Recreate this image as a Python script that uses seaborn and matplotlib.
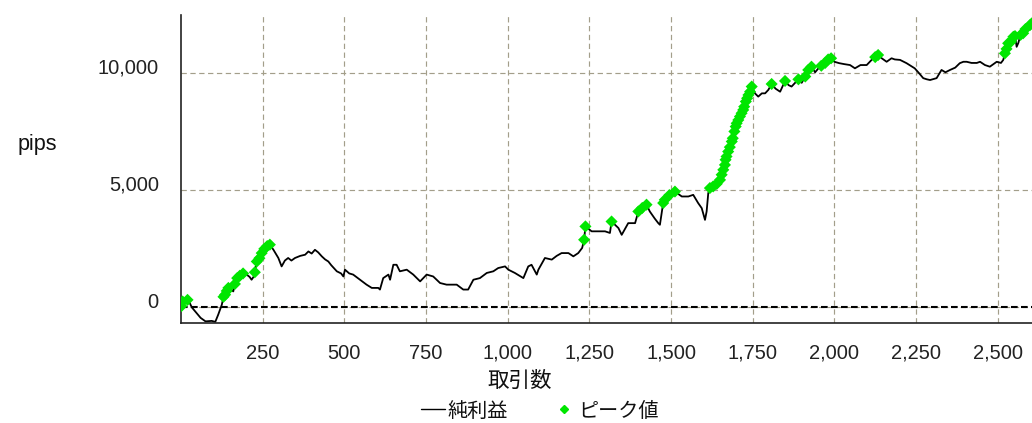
import numpy as np
import pandas as pd
import matplotlib
matplotlib.use("Agg")
import matplotlib.pyplot as plt
import matplotlib.transforms as mtransforms
from matplotlib.lines import Line2D
import seaborn as sns

# Cumulative net profit (pips) after each trade
trades = [
    1, 5, 12, 20, 27, 33, 45, 60, 75, 94, 105, 114, 125, 130, 135, 140, 145, 152, 160, 165,
    172, 180, 190, 201, 210, 216, 222, 226, 232, 240, 247, 255, 264, 272, 283, 298, 308, 318,
    328, 338, 349, 365, 380, 390, 400, 410, 420, 431, 441, 451, 460, 470, 477, 490, 497, 502,
    515, 527, 548, 568, 584, 604, 609, 619, 635, 640, 650, 660, 670, 691, 711, 732, 752, 772,
    793, 813, 844, 864, 879, 895, 915, 936, 956, 971, 992, 1002, 1022, 1048, 1063, 1073, 1089,
    1094, 1114, 1135, 1150, 1165, 1186, 1201, 1216, 1228, 1234, 1238, 1257, 1298, 1313, 1318,
    1339, 1349, 1369, 1390, 1400, 1412, 1425, 1435, 1450, 1461, 1466, 1476, 1481, 1495, 1512,
    1533, 1553, 1568, 1583, 1594, 1604, 1609, 1614, 1619, 1629, 1640, 1650, 1655, 1660, 1665,
    1667, 1670, 1675, 1680, 1686, 1689, 1694, 1698, 1701, 1706, 1711, 1716, 1721, 1724, 1729,
    1733, 1737, 1742, 1747, 1757, 1767, 1778, 1788, 1798, 1808, 1820, 1834, 1849, 1860, 1869,
    1880, 1890, 1900, 1911, 1920, 1930, 1941, 1950, 1960, 1972, 1981, 1990, 2000, 2015, 2030,
    2048, 2063, 2080, 2099, 2114, 2125, 2134, 2145, 2160, 2175, 2185, 2201, 2221, 2246, 2260,
    2272, 2283, 2293, 2313, 2328, 2340, 2354, 2370, 2384, 2395, 2405, 2420, 2436, 2446, 2461,
    2476, 2497, 2510, 2517, 2522, 2527, 2532, 2540, 2548, 2553, 2558, 2563, 2570, 2578, 2585,
    2593, 2599, 2604,
]
pips = [
    50, 250, 200, 320, 180, 0, -200, -450, -600, -580, -620, -310, 115, 450, 540, 700, 830, 760, 680, 1000,
    1250, 1350, 1450, 1400, 1300, 1180, 1300, 1500, 1960, 2100, 2320, 2500, 2620, 2680, 2460, 2110, 1750, 2000,
    2110, 2000, 2110, 2200, 2250, 2390, 2300, 2460, 2350, 2180, 2050, 1960, 1800, 1650, 1540, 1450, 1320, 1610,
    1450, 1400, 1180, 970, 830, 830, 760, 1250, 1400, 1180, 1820, 1820, 1540, 1610, 1400, 1110, 1400, 1320,
    1040, 970, 970, 760, 760, 1180, 1250, 1470, 1540, 1680, 1750, 1610, 1470, 1250, 1750, 1820, 1400,
    1610, 2110, 2040, 2200, 2320, 2320, 2180, 2320, 2540, 2890, 3460, 3250, 3250, 3180, 3670,
    3390, 3100, 3600, 3600, 4100, 4250, 4390, 4100, 3800, 3600, 3530, 4460, 4600, 4800, 4950,
    4740, 4740, 4810, 4460, 4240, 3740, 4100, 4880, 5100, 5170, 5280, 5450, 5670, 5880, 6090,
    6310, 6450, 6660, 6850, 7090, 7230, 7520, 7730, 7870, 8010, 8160, 8300, 8440, 8580, 8800,
    8940, 9080, 9220, 9440, 9150, 9010, 9150, 9150, 9300, 9550, 9350, 9220, 9680, 9500, 9440,
    9600, 9750, 9600, 9870, 10150, 10290, 10050, 10200, 10330, 10450, 10600, 10650, 10500, 10440, 10400,
    10360, 10220, 10360, 10360, 10580, 10700, 10790, 10650, 10500, 10650, 10600, 10580, 10440, 10220, 10000,
    9800, 9750, 9720, 9800, 10150, 10050, 10150, 10250, 10440, 10500, 10500, 10450, 10450, 10500, 10360,
    10290, 10500, 10450, 10580, 10860, 11050, 11290, 11350, 11570, 11600, 11140, 11300, 11650, 11720, 11900,
    11860, 12070, 12140,
]

x_ticks = [250, 500, 750, 1000, 1250, 1500, 1750, 2000, 2250, 2500]
y_ticks = [0, 5000, 10000]
series_labels = ["純利益", "ピーク値"]
x_title = "取引数"
y_title = "pips"

df = pd.DataFrame({"trade": trades, "pips": pips})
# New equity highs: points that exceed every earlier value
prev_max = df["pips"].cummax().shift(1, fill_value=-np.inf)
peaks = df[df["pips"] > prev_max]

sns.set_style("white")
plt.rcParams["font.family"] = ["Liberation Sans", "Noto Sans CJK JP", "DejaVu Sans"]

W, H = 1032, 423
fig = plt.figure(figsize=(W / 100, H / 100), dpi=100)
ax = fig.add_axes([181 / W, 1 - 323 / H, 1 - 181 / W, (323 - 15) / H])

grid_color = "#a39e8a"
ax.set_axisbelow(True)
ax.grid(True, color=grid_color, linewidth=0.85, linestyle=(0, (4.5, 3)))
ax.axhline(0, color="black", linewidth=1.5, linestyle=(0, (3.2, 1.6)), zorder=1.5)

green = "#00e600"
sns.lineplot(data=df, x="trade", y="pips", color="black", linewidth=1.3,
             estimator=None, sort=False, legend=False, ax=ax, zorder=2)
sns.scatterplot(data=peaks, x="trade", y="pips", marker="D", s=38, color=green,
                edgecolor="none", linewidth=0, legend=False, ax=ax, zorder=3)

ax.set_xlim(0, 2605)
ax.set_ylim(-670, 12500)
ax.set_xticks(x_ticks)
ax.set_xticklabels([f"{v:,}" for v in x_ticks])
ax.set_yticks(y_ticks)
ax.set_yticklabels([f"{v:,}" for v in y_ticks])
ax.set_xlabel("")
ax.set_ylabel("")

ax.tick_params(axis="both", length=8, width=1, color="#333333",
               labelsize=14.5, labelcolor="#222222")
ax.tick_params(axis="x", pad=7)
ax.tick_params(axis="y", pad=8)

# y tick labels sit slightly above their tick marks
shift = mtransforms.ScaledTranslation(0, 7 / 100, fig.dpi_scale_trans)
for lbl in ax.get_yticklabels():
    lbl.set_transform(lbl.get_transform() + shift)

for side in ("top", "right"):
    ax.spines[side].set_visible(False)
for side in ("left", "bottom"):
    ax.spines[side].set_color("#222222")
    ax.spines[side].set_linewidth(1.2)

fig.text(37 / W, 1 - 144 / H, y_title, fontsize=15.5, ha="center", va="center", color="#111111")
fig.text(520 / W, 1 - 381 / H, x_title, fontsize=15.5, ha="center", va="center", color="#111111")

handles = [
    Line2D([], [], color="black", linewidth=1.0),
    Line2D([], [], color=green, marker="D", markersize=4, linestyle="none"),
]
fig.legend(handles, series_labels, loc="center", bbox_to_anchor=(540 / W, 1 - 411 / H),
           ncol=2, frameon=False, fontsize=14.5, handlelength=1.2, handletextpad=0.1,
           columnspacing=2.2, borderpad=0, labelcolor="#111111")

fig.savefig("out.png", dpi=100)
